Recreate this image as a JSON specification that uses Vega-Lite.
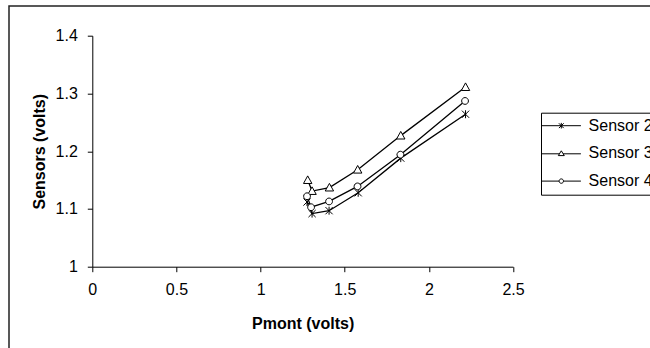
{
  "$schema": "https://vega.github.io/schema/vega-lite/v6.json",
  "width": 420.7,
  "height": 231,
  "autosize": "none",
  "padding": {"left": 92.3, "top": 35.7, "right": 137, "bottom": 81.3},
  "background": "white",
  "config": {
    "view": {"stroke": null},
    "font": "Liberation Sans",
    "axis": {
      "domainColor": "black",
      "domainWidth": 1,
      "tickColor": "black",
      "tickWidth": 1,
      "tickSize": 5,
      "grid": false,
      "labelFont": "Liberation Sans",
      "labelFontSize": 16,
      "labelColor": "black",
      "labelPadding": 10,
      "labelFlush": false,
      "labelOverlap": false,
      "titleFont": "Liberation Sans",
      "titleFontSize": 16,
      "titleFontWeight": "bold",
      "titleColor": "black",
      "format": "~g"
    }
  },
  "datasets": {
    "sensors": [
      {"sensor": "Sensor 2", "i": 1, "pmont": 1.276, "volts": 1.112},
      {"sensor": "Sensor 2", "i": 2, "pmont": 1.306, "volts": 1.092},
      {"sensor": "Sensor 2", "i": 3, "pmont": 1.407, "volts": 1.097},
      {"sensor": "Sensor 2", "i": 4, "pmont": 1.58, "volts": 1.128},
      {"sensor": "Sensor 2", "i": 5, "pmont": 1.833, "volts": 1.188},
      {"sensor": "Sensor 2", "i": 6, "pmont": 2.218, "volts": 1.264},
      {"sensor": "Sensor 3", "i": 1, "pmont": 1.28, "volts": 1.15},
      {"sensor": "Sensor 3", "i": 2, "pmont": 1.306, "volts": 1.131},
      {"sensor": "Sensor 3", "i": 3, "pmont": 1.409, "volts": 1.137},
      {"sensor": "Sensor 3", "i": 4, "pmont": 1.577, "volts": 1.168},
      {"sensor": "Sensor 3", "i": 5, "pmont": 1.833, "volts": 1.227},
      {"sensor": "Sensor 3", "i": 6, "pmont": 2.218, "volts": 1.311},
      {"sensor": "Sensor 4", "i": 1, "pmont": 1.276, "volts": 1.122},
      {"sensor": "Sensor 4", "i": 2, "pmont": 1.3, "volts": 1.103},
      {"sensor": "Sensor 4", "i": 3, "pmont": 1.407, "volts": 1.113},
      {"sensor": "Sensor 4", "i": 4, "pmont": 1.576, "volts": 1.139},
      {"sensor": "Sensor 4", "i": 5, "pmont": 1.831, "volts": 1.194},
      {"sensor": "Sensor 4", "i": 6, "pmont": 2.215, "volts": 1.287}
    ]
  },
  "resolve": {"scale": {"shape": "independent"}, "legend": {"shape": "independent"}},
  "layer": [
    {
      "data": {"values": [{}]},
      "mark": {"type": "rect", "filled": false, "stroke": "#222222", "strokeWidth": 1.5, "clip": false},
      "encoding": {
        "x": {"datum": -0.495, "type": "quantitative"},
        "x2": {"datum": 3.6},
        "y": {"datum": 1.4514, "type": "quantitative"},
        "y2": {"datum": 0.8}
      }
    },
    {
      "data": {"name": "sensors"},
      "mark": {"type": "line", "stroke": "black", "strokeWidth": 1.3},
      "encoding": {
        "x": {
          "field": "pmont", "type": "quantitative",
          "scale": {"domain": [0, 2.5], "nice": false, "zero": false},
          "axis": {"title": "Pmont (volts)", "values": [0, 0.5, 1, 1.5, 2, 2.5], "titleY": 62, "titleBaseline": "alphabetic"}
        },
        "y": {
          "field": "volts", "type": "quantitative",
          "scale": {"domain": [1, 1.4], "nice": false, "zero": false},
          "axis": {"title": "Sensors (volts)", "values": [1, 1.1, 1.2, 1.3, 1.4], "titleX": -48, "titleBaseline": "alphabetic"}
        },
        "detail": {"field": "sensor"},
        "order": {"field": "i"}
      }
    },
    {
      "data": {"name": "sensors"},
      "mark": {"type": "point", "filled": true, "fill": "white", "stroke": "black", "strokeWidth": 1, "size": 64, "opacity": 1},
      "encoding": {
        "x": {"field": "pmont", "type": "quantitative"},
        "y": {"field": "volts", "type": "quantitative"},
        "shape": {
          "field": "sensor", "type": "nominal",
          "scale": {
            "domain": ["Sensor 2", "Sensor 3", "Sensor 4"],
            "range": [
              "M-0.9,-0.9L0.9,0.9M-0.9,0.9L0.9,-0.9M0,-1L0,1",
              "M0,-1.05L1.05,0.85L-1.05,0.85Z",
              "M0.85,0A0.85,0.85 0 1,1 -0.85,0A0.85,0.85 0 1,1 0.85,0Z"
            ]
          },
          "legend": null
        }
      }
    },
    {
      "data": {"name": "sensors"},
      "transform": [{"filter": "false"}],
      "mark": {"type": "point", "filled": false, "color": "black", "strokeWidth": 1, "size": 64, "opacity": 1},
      "encoding": {
        "x": {"field": "pmont", "type": "quantitative"},
        "y": {"field": "volts", "type": "quantitative"},
        "shape": {
          "field": "sensor", "type": "nominal",
          "scale": {
            "domain": ["Sensor 2", "Sensor 3", "Sensor 4"],
            "range": [
              "M-4.9,0H4.9M-0.6,-0.6L0.6,0.6M-0.6,0.6L0.6,-0.6M0,-0.7V0.7",
              "M-4.9,0.1H-0.45M0.45,0.1H4.9M0,-0.65L0.75,0.55L-0.75,0.55Z",
              "M-4.9,0H-0.55M0.55,0H4.9M0.55,0A0.55,0.55 0 1,1 -0.55,0A0.55,0.55 0 1,1 0.55,0Z"
            ]
          },
          "legend": {
            "title": null,
            "orient": "none",
            "legendX": 448.7,
            "legendY": 77,
            "strokeColor": "black",
            "fillColor": "white",
            "padding": 5,
            "labelFont": "Liberation Sans",
            "labelFontSize": 16,
            "labelColor": "black",
            "symbolSize": 64,
            "symbolStrokeWidth": 1,
            "symbolStrokeColor": "black",
            "symbolOpacity": 1,
            "symbolOffset": 7.3,
            "labelOffset": 19.3,
            "rowPadding": 11.7
          }
        }
      }
    }
  ]
}
